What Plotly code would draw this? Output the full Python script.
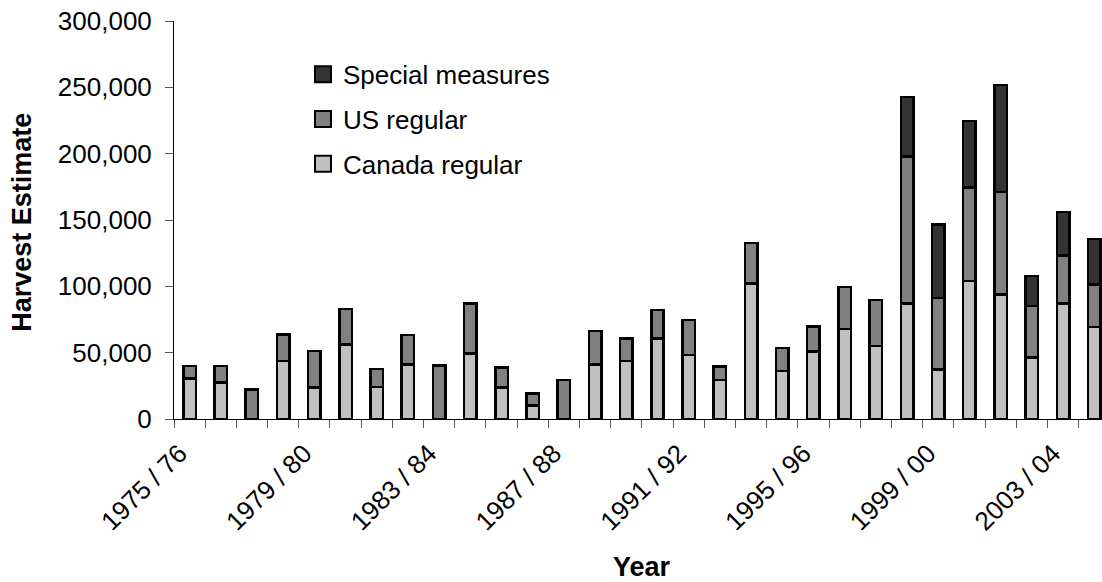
import plotly.graph_objects as go

# Harvest season labels (one bar per season)
seasons = [f"{y} / {str(y + 1)[-2:]}" for y in range(1975, 2005)]

# Harvest estimates by component
canada_regular = [30600, 27600, 0, 43700, 23600, 56200, 24300, 41200, 0, 49500,
                  23800, 10000, 0, 41200, 43700, 60700, 48200, 29400, 102200, 36100,
                  51000, 67800, 55000, 87100, 37400, 104200, 93900, 46400, 87100, 69500]
us_regular = [9300, 12400, 22300, 20100, 27800, 26800, 13300, 22100, 40200, 37600,
              15100, 9100, 29400, 25100, 17000, 21600, 26600, 10000, 30600, 17600,
              18800, 31800, 34800, 110900, 53900, 70300, 77300, 38900, 36200, 31900]
special_measures = [0, 0, 0, 0, 0, 0, 0, 0, 0, 0,
                    0, 0, 0, 0, 0, 0, 0, 0, 0, 0,
                    0, 0, 0, 44700, 55300, 50100, 80500, 22600, 32800, 34400]

# Labelled seasons on the category axis (every fourth)
tick_idx = list(range(0, len(seasons), 4))
tick_text = [seasons[i] for i in tick_idx]

FONT = "Liberation Sans, Arial, sans-serif"
series = [
    ("Canada regular", canada_regular, "#C0C0C0"),
    ("US regular", us_regular, "#808080"),
    ("Special measures", special_measures, "#333333"),
]

x = list(range(len(seasons)))
fig = go.Figure()
for name, vals, color in series:
    fig.add_trace(go.Bar(
        x=x, y=[v if v > 0 else None for v in vals], name=name,
        marker=dict(color=color, line=dict(color="black", width=2.5)),
        width=0.40, showlegend=False,
    ))

# Legend entries with larger square swatches
for name, vals, color in reversed(series):
    fig.add_trace(go.Scatter(
        x=[None], y=[None], mode="markers", name=name, legendgroup=name,
        marker=dict(symbol="square", size=16, color=color,
                    line=dict(color="black", width=2)),
    ))

fig.update_layout(
    width=1102, height=582,
    margin=dict(l=174, r=0, t=21, b=163),
    paper_bgcolor="white", plot_bgcolor="white",
    barmode="stack",
    font=dict(family=FONT, size=26, color="black"),
    legend=dict(x=0.139, xanchor="left", y=0.925, yanchor="top",
                font=dict(family=FONT, size=26, color="black"),
                bgcolor="rgba(0,0,0,0)", tracegroupgap=8,
                itemsizing="trace"),
    xaxis=dict(
        range=[-0.5, 29.25], tickmode="array", tickvals=tick_idx, ticktext=tick_text,
        tickangle=-45, ticks="", showline=True, linecolor="black", linewidth=1,
        showgrid=False, zeroline=False, ticklabelstandoff=8, ticklabelshift=-10,
        tickfont=dict(family=FONT, size=26, color="black"),
        minor=dict(tick0=-0.5, dtick=1, ticks="outside", ticklen=8,
                   tickcolor="#555555", tickwidth=1, showgrid=False),
    ),
    yaxis=dict(
        range=[0, 300000], dtick=50000, tickformat=",", ticks="outside",
        ticklen=8, tickcolor="#555555", tickwidth=1, showline=True,
        linecolor="black", linewidth=1, showgrid=False, zeroline=False,
        ticklabelstandoff=8,
        tickfont=dict(family=FONT, size=26, color="black"),
    ),
    annotations=[
        dict(text="<b>Year</b>", xref="paper", yref="paper", x=0.504, y=-0.372,
             xanchor="center", yanchor="middle", showarrow=False,
             font=dict(family=FONT, size=27, color="black")),
        dict(text="<b>Harvest Estimate</b>", xref="paper", yref="paper",
             x=-0.164, y=0.495, xanchor="center", yanchor="middle", textangle=-90,
             showarrow=False, font=dict(family=FONT, size=27, color="black")),
    ],
)

fig.write_html("out.html")
